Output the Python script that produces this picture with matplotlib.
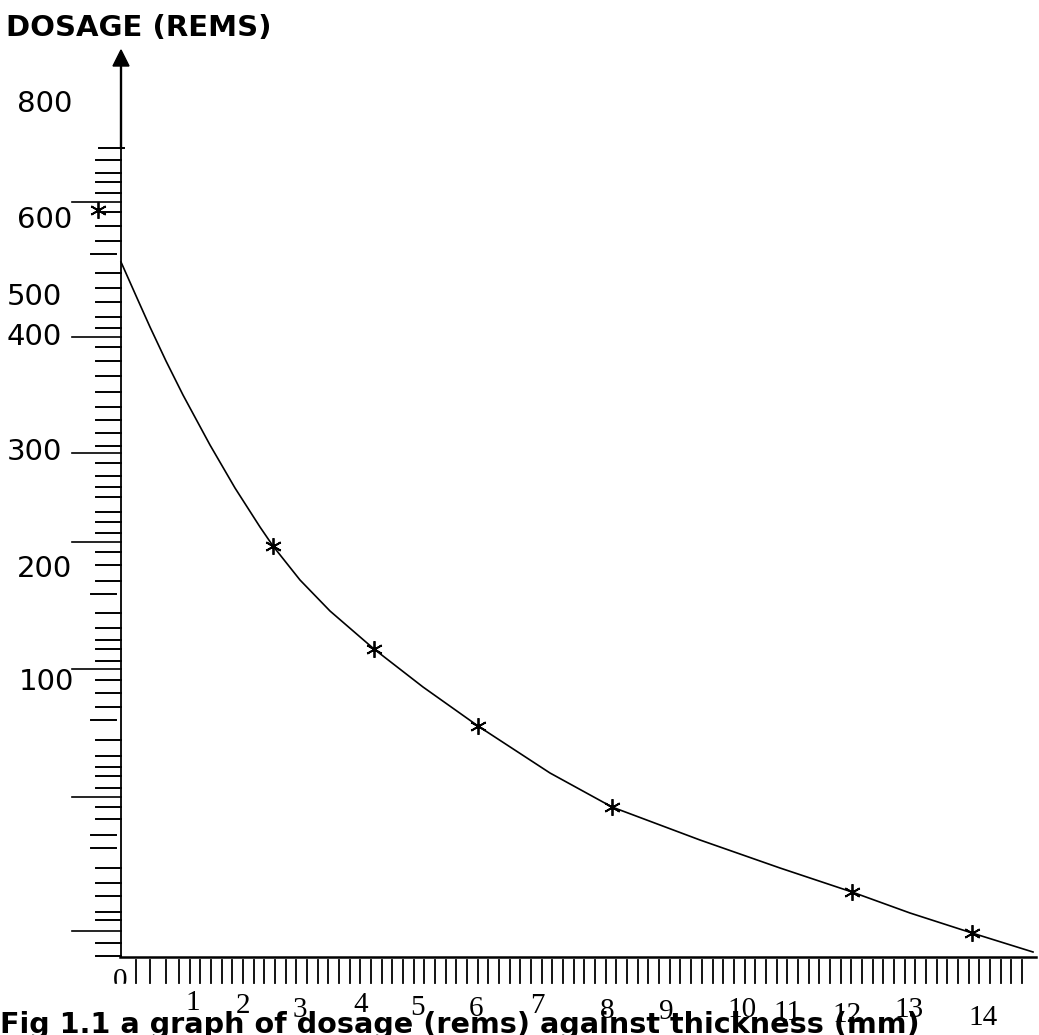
import numpy as np
import matplotlib
matplotlib.use("Agg")
import matplotlib.pyplot as plt
from matplotlib.patches import Polygon, Rectangle

# values, in picture units (x to the right, y downwards)
# measured points (asterisks)
point_x = [98, 273, 374, 478, 612, 852, 972]
point_y = [210, 546, 649, 726, 807, 892, 933]

# the hand drawn curve
curve_x = [121, 137, 150, 166, 183, 210, 235, 260, 273, 300, 330, 374, 423, 478, 550, 612,
           700, 780, 852, 910, 972, 1033]
curve_y = [262, 298, 327, 361, 395, 445, 488, 527, 546, 580, 611, 649, 687, 726, 773, 807,
           840, 868, 892, 913, 933, 952]

# y axis labels and where they sit
y_labels = ["800", "600", "500", "400", "300", "200", "100"]
y_label_x = [17, 17, 7, 7, 7, 17, 19]
y_label_base = [112, 228, 305, 345, 460, 577, 690]

# x axis labels
x_labels = ["0", "1", "2", "3", "4", "5", "6", "7", "8", "9", "10", "11", "12", "13", "14"]
x_label_x = [120, 193, 243, 300, 361, 417, 476, 537, 607, 666, 742, 787, 847, 909, 983]
x_label_base = [988, 1010, 1013, 1017, 1012, 1015, 1016, 1013, 1018, 1019, 1017, 1020, 1022, 1017, 1025]

# y ruler ticks
y_minor = [160, 173, 182, 193, 212, 226, 241, 273, 288, 302, 317, 328, 347, 361, 376, 392,
           407, 420, 433, 446, 463, 476, 487, 497, 512, 522, 533, 552, 565, 581, 613, 628,
           640, 649, 661, 680, 693, 707, 740, 756, 767, 776, 788, 807, 819, 868, 883, 896,
           912, 920, 943, 956]
y_offset = [254, 594, 720, 835, 848]
y_long = [202, 337, 453, 542, 669, 797, 931]

# x ruler ticks
x_ticks = [136, 150, 166] + list(179 + 10.67 * np.arange(80))

ox, oy = 121, 957  # axes corner

fig = plt.figure(figsize=(10.39, 10.35), dpi=100)
ax = fig.add_axes([0, 0, 1, 1])
ax.set_xlim(0, 1039)
ax.set_ylim(1035, 0)
ax.axis("off")

# axes lines
ax.plot([ox, ox], [oy, 148], color="black", lw=1.3)
ax.plot([ox, ox], [148, 64], color="black", lw=1.7)
ax.add_patch(Polygon([[ox, 50], [ox - 8, 66], [ox + 8, 66]], closed=True, color="black"))
ax.plot([ox - 1, 1036], [oy, oy], color="black", lw=1.8)

# y ruler
for y in y_minor:
    ax.plot([96, ox], [y, y], color="black", lw=1.4)
for y in y_offset:
    ax.plot([91, 116], [y, y], color="black", lw=1.4)
for y in y_long:
    ax.plot([72, ox], [y, y], color="black", lw=1.2)
ax.plot([99, 124], [148, 148], color="black", lw=1.4)

# x ruler
for x in x_ticks:
    ax.plot([x, x], [960, 983], color="black", lw=1.3)

# curve and points
ax.plot(curve_x, curve_y, color="black", lw=1.2)
ax.plot(point_x, point_y, linestyle="none", marker=(6, 2, 0), markersize=12,
        markeredgewidth=1.3, color="black", zorder=5)

# labels
for lab, x, y in zip(y_labels, y_label_x, y_label_base):
    ax.text(x, y, lab, fontsize=21, family="DejaVu Sans", ha="left", va="baseline")
for lab, x, y in zip(x_labels, x_label_x, x_label_base):
    ax.text(x, y, lab, fontsize=21, family="Liberation Serif", ha="center", va="baseline")
ax.add_patch(Rectangle((106, 984), 28, 6, color="white", zorder=4))

ax.text(6, 36, "DOSAGE (REMS)", fontsize=21, fontweight="bold", family="DejaVu Sans",
        ha="left", va="baseline")
ax.text(0, 1033, "Fig 1.1 a graph of dosage (rems) against thickness (mm)", fontsize=20.6,
        fontweight="bold", family="DejaVu Sans", ha="left", va="baseline", zorder=6)

plt.savefig("out.png", dpi=100)
